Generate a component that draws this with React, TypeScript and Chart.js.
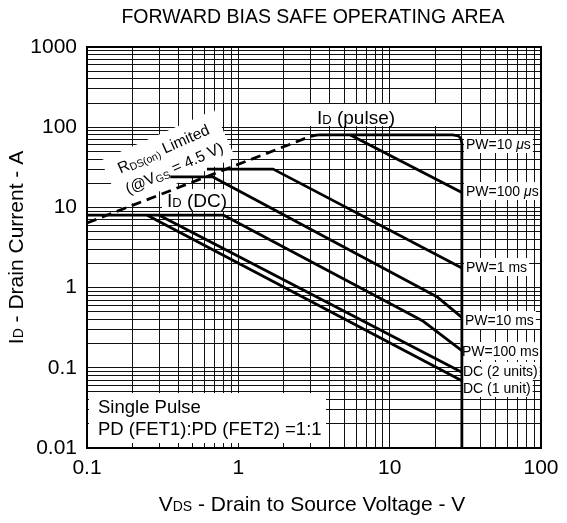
import React, { useEffect, useRef } from 'react';
import { Chart, registerables } from 'chart.js';

Chart.register(...registerables);

const FONT = "'Liberation Sans', Arial, Helvetica, sans-serif";

// Axis tick labels (decades)
const xTickLabels = ['0.1', '1', '10', '100'];
const yTickLabels = ['0.01', '0.1', '1', '10', '100', '1000'];

// Series: drain-source voltage (V) and drain current (A)
const rdsLimitV = [0.1, 2.9, 3.2, 3.4];
const rdsLimitI = [6.4, 75, 79, 80];
const pw10usV = [3.4, 26, 28.4, 29.6, 30, 30];
const pw10usI = [80, 80, 78, 72, 62, 0.01];
const pw100usV = [5.5, 30];
const pw100usI = [80, 15.3];
const pw1msV = [0.62, 1.7, 30];
const pw1msI = [30, 30, 1.75];
const pw10msV = [0.355, 0.68, 20.5, 30];
const pw10msI = [24, 24, 0.77, 0.425];
const pw100msV = [0.8, 16.7, 30];
const pw100msI = [8, 0.38, 0.164];
const idDcV = [0.1, 0.8];
const idDcI = [8, 8];
const dc2UnitsV = [0.3, 30];
const dc2UnitsI = [8, 0.088];
const dc1UnitV = [0.25, 30];
const dc1UnitI = [8, 0.069];

const rightLabelTexts = ['PW=10 ', 'PW=100 ', 'PW=1 ms', 'PW=10 ms', 'PW=100 ms', 'DC (2 units)', 'DC (1 unit)'];

type Run = [string, number, number?, boolean?];

function fontOf(size: number, italic?: boolean) {
  return `${italic ? 'italic ' : ''}${size}px ${FONT}`;
}

function runsWidth(ctx: CanvasRenderingContext2D, runs: Run[]) {
  let w = 0;
  for (const r of runs) {
    ctx.font = fontOf(r[1], r[3]);
    w += ctx.measureText(r[0]).width;
  }
  return w;
}

function drawRuns(ctx: CanvasRenderingContext2D, runs: Run[], x: number, y: number, align: 'left' | 'center') {
  const w = runsWidth(ctx, runs);
  let cx = align === 'center' ? x - w / 2 : x;
  ctx.textAlign = 'left';
  ctx.textBaseline = 'alphabetic';
  for (const r of runs) {
    ctx.font = fontOf(r[1], r[3]);
    ctx.fillText(r[0], cx, y + (r[2] || 0));
    cx += ctx.measureText(r[0]).width;
  }
  return w;
}

function logTicks(e0: number, e1: number) {
  const t: { value: number }[] = [];
  for (let e = e0; e < e1; e++) {
    for (let m = 1; m < 10; m++) t.push({ value: m * Math.pow(10, e) });
  }
  t.push({ value: Math.pow(10, e1) });
  return t;
}

function decadeLabel(value: number, labels: string[], offset: number) {
  const l = Math.log10(value);
  const r = Math.round(l);
  if (Math.abs(l - r) > 1e-6) return '';
  return labels[r + offset] ?? '';
}

const annotations = {
  id: 'annotations',
  beforeDatasetsDraw(chart: any) {
    const ctx: CanvasRenderingContext2D = chart.ctx;
    ctx.save();
    ctx.fillStyle = '#fff';

    // label backgrounds
    ctx.fillRect(296, 104, 162, 22); // ID (pulse)
    ctx.fillRect(162, 189, 62, 22); // ID (DC)
    ctx.fillRect(89, 393, 237, 50); // Single pulse note

    // rotated RDS(on) label background
    ctx.save();
    ctx.translate(168, 159);
    ctx.rotate((-24 * Math.PI) / 180);
    ctx.fillRect(-62, -26, 124, 52);
    ctx.restore();

    // right side labels
    const rightRuns: Run[][] = [
      [[rightLabelTexts[0], 14], ['μ', 14, 0, true], ['s', 14]],
      [[rightLabelTexts[1], 14], ['μ', 14, 0, true], ['s', 14]],
      [[rightLabelTexts[2], 14]],
      [[rightLabelTexts[3], 14]],
      [[rightLabelTexts[4], 14]],
      [[rightLabelTexts[5], 14]],
      [[rightLabelTexts[6], 14]],
    ];
    const rightPos = [
      [466, 144],
      [466, 191],
      [466, 267],
      [465, 320],
      [462, 351],
      [463, 371],
      [463, 388],
    ];
    rightRuns.forEach((runs, i) => {
      const w = runsWidth(ctx, runs);
      ctx.fillStyle = '#fff';
      ctx.fillRect(rightPos[i][0] - 2, rightPos[i][1] - 9, w + 4, 18);
    });

    ctx.fillStyle = '#000';
    rightRuns.forEach((runs, i) => {
      drawRuns(ctx, runs, rightPos[i][0], rightPos[i][1] + 5, 'left');
    });

    // ID (pulse), ID (DC)
    drawRuns(ctx, [['I', 19], ['D', 13], [' (pulse)', 19]], 317, 123.5, 'left');
    drawRuns(ctx, [['I', 19], ['D', 13], [' (DC)', 19]], 167, 207, 'left');

    // RDS(on) limited label
    ctx.save();
    ctx.translate(168, 159);
    ctx.rotate((-24 * Math.PI) / 180);
    drawRuns(ctx, [['R', 15.5], ['DS(on)', 10.5, 2], [' Limited', 15.5]], 0, -6, 'center');
    drawRuns(ctx, [['(@V', 15.5], ['GS', 10.5, 2], [' = 4.5 V)', 15.5]], 2, 16, 'center');
    ctx.restore();

    // Single pulse note
    drawRuns(ctx, [['Single Pulse', 18.5]], 98, 413, 'left');
    drawRuns(ctx, [['PD (FET1):PD (FET2) =1:1', 18.5]], 98, 435, 'left');

    // chart title
    drawRuns(ctx, [['FORWARD BIAS SAFE OPERATING AREA', 19.5]], 313, 23, 'center');

    // axis titles
    drawRuns(ctx, [['V', 21], ['DS', 14], [' - Drain to Source Voltage - V', 21]], 312, 511, 'center');
    ctx.save();
    ctx.translate(23, 247.5);
    ctx.rotate(-Math.PI / 2);
    drawRuns(ctx, [['I', 21], ['D', 14], [' - Drain Current - A', 21]], 0, 0, 'center');
    ctx.restore();

    ctx.restore();
  },
  afterDatasetsDraw(chart: any) {
    const ctx: CanvasRenderingContext2D = chart.ctx;
    const { left, top, right, bottom } = chart.chartArea;
    ctx.save();
    ctx.strokeStyle = '#000';
    ctx.lineWidth = 2;
    ctx.strokeRect(left, top, right - left, bottom - top);
    ctx.restore();
  },
};

function pts(vs: number[], is: number[]) {
  return vs.map((v, i) => ({ x: v, y: is[i] }));
}

function series(vs: number[], is: number[], dash?: number[]) {
  return {
    data: pts(vs, is),
    showLine: true,
    borderColor: '#000',
    backgroundColor: '#000',
    borderWidth: 2.8,
    pointRadius: 0,
    borderDash: dash || [],
    fill: false,
    tension: 0,
    borderJoinStyle: 'round',
  };
}

export default function App() {
  const ref = useRef<HTMLCanvasElement>(null);

  useEffect(() => {
    const canvas = ref.current;
    if (!canvas) return;
    const tickFont = { family: FONT, size: 21 };
    const chart = new Chart(canvas, {
      type: 'scatter',
      data: {
        datasets: [
          series(rdsLimitV, rdsLimitI, [10, 6]),
          series(pw10usV, pw10usI),
          series(pw100usV, pw100usI),
          series(pw1msV, pw1msI),
          series(pw10msV, pw10msI),
          series(pw100msV, pw100msI),
          series(idDcV, idDcI),
          series(dc2UnitsV, dc2UnitsI),
          series(dc1UnitV, dc1UnitI),
        ] as any,
      },
      options: {
        responsive: false,
        animation: false,
        devicePixelRatio: 1,
        layout: { padding: { top: 47, right: 26, left: 0, bottom: 0 } },
        plugins: {
          legend: { display: false },
          tooltip: { enabled: false },
          title: { display: false },
        },
        scales: {
          x: {
            type: 'logarithmic',
            min: 0.1,
            max: 100,
            afterBuildTicks: (s: any) => {
              s.ticks = logTicks(-1, 2);
            },
            afterFit: (s: any) => {
              s.height = 75;
            },
            grid: { color: '#111', lineWidth: 1, drawTicks: false },
            border: { display: false },
            ticks: {
              autoSkip: false,
              maxRotation: 0,
              minRotation: 0,
              padding: 8,
              color: '#000',
              font: tickFont,
              callback: (v: any) => decadeLabel(Number(v), xTickLabels, 1),
            },
          },
          y: {
            type: 'logarithmic',
            min: 0.01,
            max: 1000,
            afterBuildTicks: (s: any) => {
              s.ticks = logTicks(-2, 3);
            },
            afterFit: (s: any) => {
              s.width = 87;
            },
            grid: { color: '#111', lineWidth: 1, drawTicks: false },
            border: { display: false },
            ticks: {
              autoSkip: false,
              padding: 10,
              color: '#000',
              font: tickFont,
              callback: (v: any) => decadeLabel(Number(v), yTickLabels, 2),
            },
          },
        },
      } as any,
      plugins: [annotations],
    });
    return () => chart.destroy();
  }, []);

  return (
    <div style={{ position: 'absolute', left: 0, top: 0, width: 567, height: 523, background: '#fff' }}>
      <canvas ref={ref} width={567} height={523} />
    </div>
  );
}
